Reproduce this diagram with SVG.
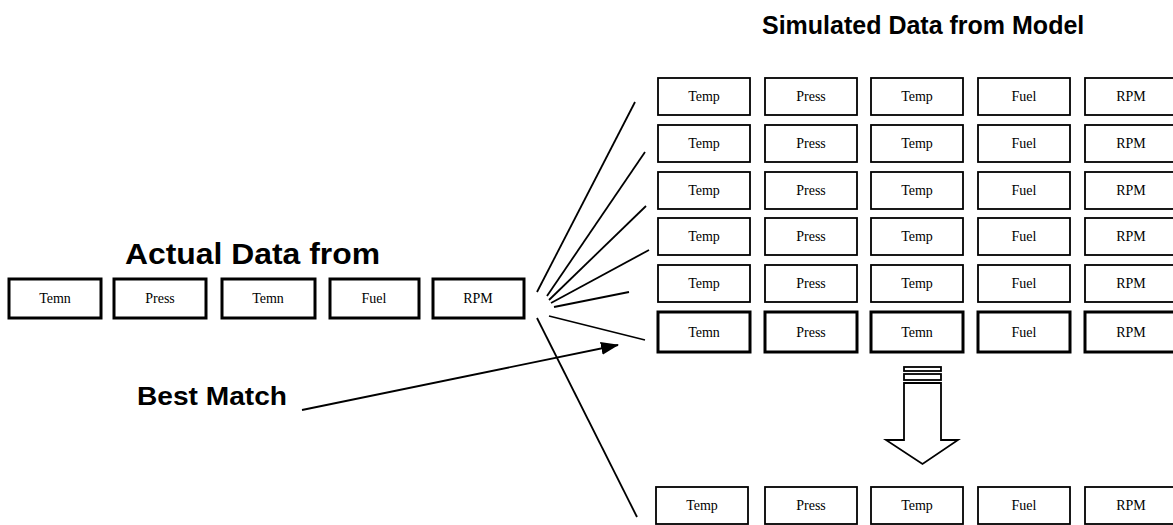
<svg xmlns="http://www.w3.org/2000/svg" width="1173" height="525" viewBox="0 0 1173 525">
<defs>
<style>
.b{fill:#fff;stroke:#000;stroke-width:1.8}
.bb{fill:#fff;stroke:#000;stroke-width:3}
.t{font-family:"Liberation Serif",serif;font-size:14px;text-anchor:middle;fill:#000}
.h{font-family:"Liberation Sans",Arial,sans-serif;font-weight:bold;fill:#000}
.c{stroke:#000;stroke-width:1.8;fill:none}
</style>
<marker id="ah" markerWidth="18" markerHeight="13" refX="17" refY="6.5" orient="auto" markerUnits="userSpaceOnUse" viewBox="0 0 18 13">
<path d="M0,0 L18,6.5 L0,13 z" fill="#000"/>
</marker>
</defs>
<rect width="1173" height="525" fill="#fff"/>
<text class="h" x="762" y="34" font-size="25">Simulated Data from Model</text>
<text class="h" x="125" y="264" font-size="29" textLength="255" lengthAdjust="spacingAndGlyphs">Actual Data from</text>
<text class="h" x="137" y="405" font-size="25" textLength="150" lengthAdjust="spacingAndGlyphs">Best Match</text>

<g id="connectors">
<line class="c" x1="537" y1="292" x2="635" y2="102"/>
<line class="c" x1="547" y1="296" x2="645" y2="152"/>
<line class="c" x1="549" y1="300" x2="646" y2="206"/>
<line class="c" x1="551" y1="303" x2="649" y2="250"/>
<line class="c" x1="554" y1="307" x2="629" y2="292"/>
<line class="c" x1="549" y1="316" x2="645" y2="340"/>
<line class="c" x1="537" y1="318" x2="637" y2="517"/>
<line class="c" x1="302" y1="410" x2="618" y2="345" marker-end="url(#ah)"/>
</g>

<g id="actual">
<rect class="bb" x="9" y="279" width="92" height="39"/><text class="t" x="55" y="303">Temn</text>
<rect class="bb" x="114" y="279" width="92" height="39"/><text class="t" x="160" y="303">Press</text>
<rect class="bb" x="222" y="279" width="93" height="39"/><text class="t" x="268" y="303">Temn</text>
<rect class="bb" x="330" y="279" width="89" height="39"/><text class="t" x="374" y="303">Fuel</text>
<rect class="bb" x="433" y="279" width="91" height="39"/><text class="t" x="478" y="303">RPM</text>
</g>

<g id="sim1">
<rect class="b" x="658" y="78" width="92" height="37"/><text class="t" x="704" y="101">Temp</text>
<rect class="b" x="765" y="78" width="92" height="37"/><text class="t" x="811" y="101">Press</text>
<rect class="b" x="871" y="78" width="92" height="37"/><text class="t" x="917" y="101">Temp</text>
<rect class="b" x="978" y="78" width="92" height="37"/><text class="t" x="1024" y="101">Fuel</text>
<rect class="b" x="1085" y="78" width="92" height="37"/><text class="t" x="1131" y="101">RPM</text>
</g>
<g id="sim2">
<rect class="b" x="658" y="125" width="92" height="37"/><text class="t" x="704" y="148">Temp</text>
<rect class="b" x="765" y="125" width="92" height="37"/><text class="t" x="811" y="148">Press</text>
<rect class="b" x="871" y="125" width="92" height="37"/><text class="t" x="917" y="148">Temp</text>
<rect class="b" x="978" y="125" width="92" height="37"/><text class="t" x="1024" y="148">Fuel</text>
<rect class="b" x="1085" y="125" width="92" height="37"/><text class="t" x="1131" y="148">RPM</text>
</g>
<g id="sim3">
<rect class="b" x="658" y="172" width="92" height="37"/><text class="t" x="704" y="195">Temp</text>
<rect class="b" x="765" y="172" width="92" height="37"/><text class="t" x="811" y="195">Press</text>
<rect class="b" x="871" y="172" width="92" height="37"/><text class="t" x="917" y="195">Temp</text>
<rect class="b" x="978" y="172" width="92" height="37"/><text class="t" x="1024" y="195">Fuel</text>
<rect class="b" x="1085" y="172" width="92" height="37"/><text class="t" x="1131" y="195">RPM</text>
</g>
<g id="sim4">
<rect class="b" x="658" y="218" width="92" height="37"/><text class="t" x="704" y="241">Temp</text>
<rect class="b" x="765" y="218" width="92" height="37"/><text class="t" x="811" y="241">Press</text>
<rect class="b" x="871" y="218" width="92" height="37"/><text class="t" x="917" y="241">Temp</text>
<rect class="b" x="978" y="218" width="92" height="37"/><text class="t" x="1024" y="241">Fuel</text>
<rect class="b" x="1085" y="218" width="92" height="37"/><text class="t" x="1131" y="241">RPM</text>
</g>
<g id="sim5">
<rect class="b" x="658" y="265" width="92" height="37"/><text class="t" x="704" y="288">Temp</text>
<rect class="b" x="765" y="265" width="92" height="37"/><text class="t" x="811" y="288">Press</text>
<rect class="b" x="871" y="265" width="92" height="37"/><text class="t" x="917" y="288">Temp</text>
<rect class="b" x="978" y="265" width="92" height="37"/><text class="t" x="1024" y="288">Fuel</text>
<rect class="b" x="1085" y="265" width="92" height="37"/><text class="t" x="1131" y="288">RPM</text>
</g>
<g id="sim6-best">
<rect class="bb" x="658" y="312" width="92" height="40"/><text class="t" x="704" y="337">Temn</text>
<rect class="bb" x="765" y="312" width="92" height="40"/><text class="t" x="811" y="337">Press</text>
<rect class="bb" x="871" y="312" width="92" height="40"/><text class="t" x="917" y="337">Temn</text>
<rect class="bb" x="978" y="312" width="92" height="40"/><text class="t" x="1024" y="337">Fuel</text>
<rect class="bb" x="1085" y="312" width="92" height="40"/><text class="t" x="1131" y="337">RPM</text>
</g>

<g id="down-arrow">
<rect class="b" x="904" y="367" width="37" height="4"/>
<rect class="b" x="904" y="374" width="37" height="6"/>
<path class="b" d="M904,383 L941,383 L941,440 L958,440 L922.5,464 L886,440 L904,440 Z"/>
</g>

<g id="result">
<rect class="b" x="656" y="487" width="92" height="37"/><text class="t" x="702" y="510">Temp</text>
<rect class="b" x="765" y="487" width="92" height="37"/><text class="t" x="811" y="510">Press</text>
<rect class="b" x="871" y="487" width="92" height="37"/><text class="t" x="917" y="510">Temp</text>
<rect class="b" x="978" y="487" width="92" height="37"/><text class="t" x="1024" y="510">Fuel</text>
<rect class="b" x="1085" y="487" width="92" height="37"/><text class="t" x="1131" y="510">RPM</text>
</g>
</svg>
